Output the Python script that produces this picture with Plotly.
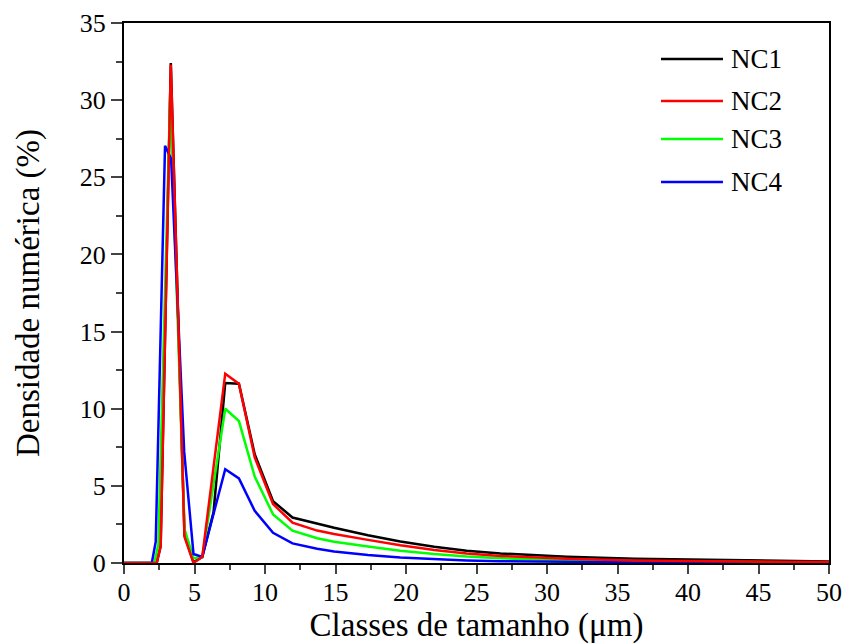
import plotly.graph_objects as go

# ---- data ----
tail_x = [11.95, 13.7, 14.9, 17.3, 19.6, 22.0, 24.3, 26.7, 31.4, 36.2, 40.9, 45.5, 50.0]

nc1_x = [0, 2.32, 2.6, 3.32, 4.29, 4.93, 5.55, 6.35, 7.18, 8.15, 9.27, 10.57] + tail_x
nc1_y = [0, 0, 1.1, 32.4, 1.8, 0.05, 0.4, 3.3, 11.67, 11.62, 7.05, 4.01,
         2.95, 2.55, 2.28, 1.8, 1.4, 1.05, 0.8, 0.62, 0.4, 0.27, 0.2, 0.15, 0.1]

nc2_x = [0, 2.32, 2.6, 3.32, 4.29, 4.93, 5.55, 7.18, 8.15, 9.27, 10.57] + tail_x
nc2_y = [0, 0, 1.1, 32.3, 1.7, 0.0, 0.4, 12.27, 11.62, 6.85, 3.82,
         2.61, 2.1, 1.88, 1.5, 1.15, 0.85, 0.62, 0.46, 0.27, 0.17, 0.11, 0.08, 0.06]

nc3_x = [0, 2.15, 2.44, 3.28, 4.29, 4.93, 5.55, 7.18, 8.15, 9.27, 10.57] + tail_x
nc3_y = [0, 0, 1.23, 30.5, 2.2, 0.3, 0.4, 10.0, 9.2, 5.6, 3.15,
         2.09, 1.6, 1.38, 1.07, 0.8, 0.58, 0.42, 0.31, 0.17, 0.11, 0.07, 0.05, 0.04]

nc4_x = [0, 1.97, 2.25, 2.91, 3.34, 4.27, 4.93, 5.55, 7.18, 8.15, 9.27, 10.57] + tail_x
nc4_y = [0, 0, 1.38, 27.05, 26.2, 7.2, 0.58, 0.4, 6.08, 5.48, 3.38, 1.96,
         1.27, 0.93, 0.75, 0.52, 0.36, 0.25, 0.17, 0.12, 0.06, 0.04, 0.03, 0.02, 0.02]

series_names = ["NC1", "NC2", "NC3", "NC4"]
series_colors = {"NC1": "#000000", "NC2": "#FF0000", "NC3": "#00FF00", "NC4": "#0000FF"}
series_data = {"NC1": (nc1_x, nc1_y), "NC2": (nc2_x, nc2_y),
               "NC3": (nc3_x, nc3_y), "NC4": (nc4_x, nc4_y)}
draw_order = ["NC1", "NC3", "NC4", "NC2"]

x_ticks = [0, 5, 10, 15, 20, 25, 30, 35, 40, 45, 50]
y_ticks = [0, 5, 10, 15, 20, 25, 30, 35]

FONT = "Liberation Serif, Times New Roman, Times, serif"

fig = go.Figure()
for name in draw_order:
    xs, ys = series_data[name]
    fig.add_trace(go.Scatter(
        x=xs, y=ys, mode="lines", name=name, showlegend=False,
        line=dict(color=series_colors[name], width=2.5),
    ))

# manual legend (Origin style: long line samples, uneven rows); window rows y 59,101,139,182
legend_rows_y = [0.9333, 0.8556, 0.7852, 0.7056]  # paper coords
lx0, lx1, ltx = 0.7617, 0.8496, 0.8582
for name, yy in zip(series_names, legend_rows_y):
    fig.add_shape(type="line", xref="paper", yref="paper",
                  x0=lx0, x1=lx1, y0=yy, y1=yy,
                  line=dict(color=series_colors[name], width=2.5))
    fig.add_annotation(xref="paper", yref="paper", x=ltx, y=yy,
                       xanchor="left", yanchor="middle", showarrow=False,
                       text=name, font=dict(family=FONT, size=27, color="black"))

fig.update_layout(
    width=845, height=644,
    margin=dict(l=124, r=16, t=23, b=81),
    paper_bgcolor="white", plot_bgcolor="white",
    font=dict(family=FONT, size=26, color="black"),
    showlegend=False,
    xaxis=dict(
        range=[0, 50], tickvals=x_ticks, ticks="outside", ticklen=9, tickwidth=2,
        linecolor="black", linewidth=2, mirror=True, showgrid=False, zeroline=False,
        minor=dict(ticks="outside", ticklen=5, tickwidth=2, dtick=2.5, showgrid=False),
        title=dict(text="Classes de tamanho (μm)", font=dict(family=FONT, size=33), standoff=11),
        tickfont=dict(family=FONT, size=26), automargin=False,
        ticklabeloverflow="allow", ticklabelstandoff=-4,
    ),
    yaxis=dict(
        range=[0, 35], tickvals=y_ticks, ticks="outside", ticklen=11, tickwidth=2,
        linecolor="black", linewidth=2, mirror=True, showgrid=False, zeroline=False,
        minor=dict(ticks="outside", ticklen=6, tickwidth=2, dtick=2.5, showgrid=False),
        title=dict(text="Densidade numérica (%)", font=dict(family=FONT, size=33), standoff=30),
        tickfont=dict(family=FONT, size=26), automargin=False,
        ticklabeloverflow="allow",
    ),
)

fig.write_html(
    "out.html",
    config={"displayModeBar": False},
    post_script="document.body.style.margin='0';document.body.style.overflow='hidden';",
)
